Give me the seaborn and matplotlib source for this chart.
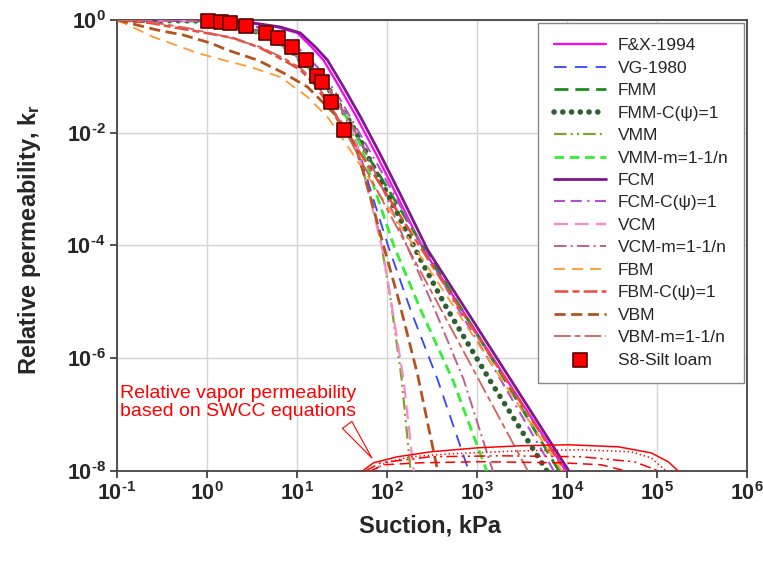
import numpy as np
import pandas as pd
import matplotlib
matplotlib.use("Agg")
import matplotlib.pyplot as plt
import seaborn as sns

# ---------------- data ----------------
fx_x = [0.1, 0.84, 3.03, 5.90, 10.1, 14.5, 19.7, 29.6, 45.8, 76.6, 128, 256, 2148, 9750]
fx_y = [1.0, 0.98, 0.885, 0.751, 0.589, 0.332, 0.195, 0.0649, 0.0191, 4.04e-3, 7.89e-4, 8.36e-5, 4.14e-7, 1e-8]

vg_x = [0.1, 0.84, 1.96, 4.68, 9.12, 14.1, 21.8, 30.4, 39.4, 48.3, 65.6, 102, 183, 366, 811]
vg_y = [1.0, 0.96, 0.815, 0.542, 0.260, 0.130, 0.0649, 0.0286, 0.0149, 4.95e-3, 9.68e-4, 1.03e-4, 7.21e-6, 4.14e-7, 1e-8]

fmm_x = [0.1, 0.84, 1.96, 4.68, 9.12, 14.1, 21.8, 30.4, 39.4, 62.4, 142, 713, 1750, 8147]
fmm_y = [1.0, 0.96, 0.815, 0.542, 0.260, 0.130, 0.0649, 0.0286, 0.0149, 3.72e-3, 4.28e-4, 6.38e-6, 6.22e-7, 1e-8]

fmmc_x = [0.1, 0.84, 1.96, 4.68, 9.12, 14.1, 21.8, 30.4, 39.4, 50.8, 65.6, 110, 237, 473, 1426, 5984]
fmmc_y = [1.0, 0.96, 0.815, 0.542, 0.260, 0.130, 0.0649, 0.0286, 0.0149, 7.45e-3, 3.03e-3, 6.44e-4, 5.56e-5, 7.21e-6, 3.82e-7, 1e-8]

vmm_x = [0.1, 0.84, 1.96, 4.68, 9.12, 14.1, 21.8, 30.4, 39.4, 47.1, 57.8, 69.2, 84.9, 110, 146, 183]
vmm_y = [1.0, 0.96, 0.815, 0.542, 0.260, 0.130, 0.0649, 0.0286, 0.0137, 4.95e-3, 1.46e-3, 5.25e-4, 1.26e-4, 1.08e-5, 4.14e-7, 1e-8]

vmmm_x = [0.1, 0.84, 1.96, 4.68, 9.12, 14.1, 21.8, 30.4, 39.4, 53.5, 69.2, 118, 237, 538, 1285]
vmmm_y = [1.0, 0.96, 0.815, 0.542, 0.260, 0.130, 0.0649, 0.0286, 0.0149, 4.95e-3, 1.29e-3, 1.03e-4, 7.21e-6, 4.14e-7, 1e-8]

fcm_x = [0.1, 0.84, 3.27, 6.53, 10.9, 16.0, 21.8, 32.9, 50.8, 84.9, 142, 283, 2377, 10500]
fcm_y = [1.0, 0.98, 0.885, 0.751, 0.589, 0.332, 0.195, 0.0649, 0.0191, 4.04e-3, 7.89e-4, 8.36e-5, 4.14e-7, 1e-8]

fcmc_x = [0.1, 0.84, 3.03, 9.60, 18.2, 30.4, 50.8, 84.9, 183, 581, 1706, 7161]
fcmc_y = [1.0, 0.98, 0.849, 0.360, 0.130, 0.0382, 9.14e-3, 2.19e-3, 2.32e-4, 8.85e-6, 5.08e-7, 1e-8]

vcm_x = [0.1, 0.84, 1.96, 4.68, 9.12, 14.1, 21.8, 34.6, 44.7, 53.5, 65.6, 89.3, 115, 153, 198]
vcm_y = [1.0, 0.96, 0.815, 0.542, 0.260, 0.130, 0.0649, 0.0207, 7.45e-3, 2.19e-3, 6.44e-4, 8.36e-5, 7.21e-6, 4.14e-7, 1e-8]

vcmm_x = [0.1, 0.84, 1.96, 4.68, 9.12, 14.1, 21.8, 30.4, 39.4, 57.8, 96.4, 174, 348, 713, 1500]
vcmm_y = [1.0, 0.96, 0.815, 0.542, 0.260, 0.130, 0.0649, 0.0286, 0.0149, 4.57e-3, 7.89e-4, 8.36e-5, 6.65e-6, 4.14e-7, 1e-8]

fbm_x = [0.1, 0.140, 0.252, 0.389, 0.778, 1.51, 3.03, 6.53, 13.1, 21.8, 32.9, 511, 8790]
fbm_y = [1.0, 0.783, 0.500, 0.391, 0.260, 0.195, 0.147, 0.0975, 0.0431, 0.0191, 7.45e-3, 1.0e-5, 1e-8]

fbmc_x = [0.1, 0.233, 0.466, 0.840, 1.96, 3.91, 7.06, 10.9, 15.2, 21.8, 28.2, 39.4, 208, 1841, 9506]
fbmc_y = [1.0, 0.885, 0.722, 0.613, 0.480, 0.319, 0.195, 0.130, 0.0764, 0.0337, 0.0169, 8.09e-3, 1.26e-4, 5.74e-7, 1e-8]

vbm_x = [0.1, 0.167, 0.279, 0.543, 1.09, 1.68, 3.62, 7.06, 13.1, 19.7, 28.2, 39.4, 47.1, 62.4, 84.9, 135, 219, 366]
vbm_y = [1.0, 0.815, 0.665, 0.542, 0.391, 0.294, 0.195, 0.115, 0.0649, 0.0337, 0.0191, 8.43e-3, 4.39e-3, 9.68e-4, 1.54e-4, 1.08e-5, 5.08e-7, 1e-8]

vbmm_x = [0.1, 0.233, 0.603, 1.68, 3.91, 7.06, 10.9, 15.2, 21.8, 30.4, 84.9, 395, 3681]
vbmm_y = [1.0, 0.923, 0.722, 0.500, 0.332, 0.212, 0.141, 0.0863, 0.0382, 0.0155, 7.27e-4, 7.52e-6, 1e-8]

soil_x = [1.03, 1.44, 1.81, 2.73, 4.56, 6.21, 8.89, 12.7, 16.9, 19.2, 23.6, 32.9]
soil_y = [0.95, 0.93, 0.90, 0.78, 0.59, 0.48, 0.33, 0.195, 0.102, 0.080, 0.035, 0.0112]

# relative vapour permeability curves
vap1_x = [53.5, 71.0, 131, 306, 1021, 3076, 10260, 36980, 86100, 133400, 172200]
vap1_y = [1e-8, 1.40e-8, 1.79e-8, 2.19e-8, 2.58e-8, 2.80e-8, 2.92e-8, 2.69e-8, 2.10e-8, 1.46e-8, 1e-8]
vap2_x = [69.2, 96.4, 183, 511, 3076, 14320, 51640, 86100, 126500]
vap2_y = [1e-8, 1.40e-8, 1.79e-8, 2.02e-8, 2.28e-8, 2.38e-8, 2.19e-8, 1.71e-8, 1e-8]
vap3_x = [57.8, 84.9, 306, 1841, 14320, 55720, 105700]
vap3_y = [1e-8, 1.40e-8, 1.79e-8, 1.86e-8, 1.79e-8, 1.46e-8, 1e-8]
vap4_x = [65.6, 91.6, 237, 1102, 8570, 23930, 45400]
vap4_y = [1e-8, 1.29e-8, 1.40e-8, 1.46e-8, 1.40e-8, 1.29e-8, 1e-8]

x_ticks = [1e-1, 1e0, 1e1, 1e2, 1e3, 1e4, 1e5, 1e6]
x_tick_labels = [r"$10^{\text{-1}}$", r"$10^{\text{0}}$", r"$10^{\text{1}}$", r"$10^{\text{2}}$",
                 r"$10^{\text{3}}$", r"$10^{\text{4}}$", r"$10^{\text{5}}$", r"$10^{\text{6}}$"]
y_ticks = [1e-8, 1e-6, 1e-4, 1e-2, 1e0]
y_tick_labels = [r"$10^{\text{-8}}$", r"$10^{\text{-6}}$", r"$10^{\text{-4}}$", r"$10^{\text{-2}}$", r"$10^{\text{0}}$"]

# ---------------- style ----------------
sns.set_theme(style="white")
plt.rcParams["font.family"] = ["Liberation Sans", "DejaVu Sans"]
plt.rcParams.update({
    "mathtext.fontset": "custom",
    "mathtext.rm": "Liberation Sans:bold",
    "mathtext.it": "Liberation Sans:bold",
    "mathtext.bf": "Liberation Sans:bold",
    "mathtext.default": "rm",
    "lines.scale_dashes": False,
})

series = [
    ("F&X-1994", fx_x, fx_y, "#ff00ff", "-", 1.6),
    ("VG-1980", vg_x, vg_y, "#3344ff", (0, (9, 6)), 1.3),
    ("FMM", fmm_x, fmm_y, "#1e8c1e", (0, (10, 5)), 2.0),
    ("FMM-C(ψ)=1", fmmc_x, fmmc_y, "#2f5f33", (0, (0.1, 6.2)), 4.0),
    ("VMM", vmm_x, vmm_y, "#7da52a", (0, (9, 3, 1.5, 3, 1.5, 3)), 1.6),
    ("VMM-m=1-1/n", vmmm_x, vmmm_y, "#33ee33", (0, (7, 4)), 2.0),
    ("FCM", fcm_x, fcm_y, "#7a1a8c", "-", 2.0),
    ("FCM-C(ψ)=1", fcmc_x, fcmc_y, "#b54fcf", (0, (8, 4, 8, 4, 1.5, 4)), 1.5),
    ("VCM", vcm_x, vcm_y, "#ff88c8", (0, (10, 5)), 1.6),
    ("VCM-m=1-1/n", vcmm_x, vcmm_y, "#c0608a", (0, (9, 3, 1.5, 3)), 1.4),
    ("FBM", fbm_x, fbm_y, "#ff9933", (0, (8, 5)), 1.3),
    ("FBM-C(ψ)=1", fbmc_x, fbmc_y, "#ee4a3a", (0, (10, 3, 5, 3)), 1.8),
    ("VBM", vbm_x, vbm_y, "#b3541e", (0, (8, 4)), 2.0),
    ("VBM-m=1-1/n", vbmm_x, vbmm_y, "#d4605a", (0, (12, 3, 4, 3)), 1.3),
]

fig = plt.figure(figsize=(7.63, 5.63), dpi=100)
ax = fig.add_axes([0.1533, 0.1634, 0.8257, 0.8011])
ax.set_xscale("log")
ax.set_yscale("log")

handles = []
for name, xs, ys, col, ls, lw in series:
    df = pd.DataFrame({"suction": xs, "kr": ys})
    sns.lineplot(data=df, x="suction", y="kr", ax=ax, color=col, linestyle=ls,
                 linewidth=lw, estimator=None, sort=False, label=name, legend=False,
                 dash_capstyle="round" if name == "FMM-C(ψ)=1" else "butt", zorder=3)
    handles.append(ax.lines[-1])

vap_styles = [
    (vap1_x, vap1_y, "-"),
    (vap2_x, vap2_y, (0, (1, 2))),
    (vap3_x, vap3_y, (0, (8, 3, 1.5, 3, 1.5, 3))),
    (vap4_x, vap4_y, (0, (7, 4))),
]
for xs, ys, ls in vap_styles:
    dv = pd.DataFrame({"suction": xs, "kr": ys})
    sns.lineplot(data=dv, x="suction", y="kr", ax=ax, color="#ff0000", linestyle=ls,
                 linewidth=1.1, estimator=None, sort=False, legend=False, zorder=3)

ds = pd.DataFrame({"suction": soil_x, "kr": soil_y})
sns.scatterplot(data=ds, x="suction", y="kr", ax=ax, marker="s", s=95, color="#ff0000",
                edgecolor="#5a0000", linewidth=1.2, zorder=6, label="S8-Silt loam", legend=False,
                clip_on=False)
handles.append(ax.collections[-1])

ax.set_xlim(1e-1, 1e6)
ax.set_ylim(1e-8, 1e0)
ax.set_xticks(x_ticks)
ax.set_xticklabels(x_tick_labels)
ax.set_yticks(y_ticks)
ax.set_yticklabels(y_tick_labels)
ax.minorticks_off()
ax.tick_params(axis="both", which="major", labelsize=15.5, length=5, width=1.2,
               color="#333333", direction="out", bottom=True, left=True)
ax.tick_params(axis="x", pad=3)
ax.tick_params(axis="y", pad=3)
ax.grid(True, which="major", color="#d4d4d4", linewidth=1.0)
ax.set_axisbelow(True)
for sp in ax.spines.values():
    sp.set_visible(True)
    sp.set_color("#444444")
    sp.set_linewidth(1.3)

ax.set_xlabel("Suction, kPa", fontsize=17, fontweight="bold")
ax.set_ylabel("Relative permeability, k$_{r}$", fontsize=17, fontweight="bold")
ax.xaxis.set_label_coords(0.497, -0.097)
ax.yaxis.set_label_coords(-0.118, 0.514)

ax.text(2.22, 1.62e-7, "Relative vapor permeability\nbased on SWCC equations",
        color="#ff0000", fontsize=14, ha="center", va="center", linespacing=1.1)
ax.annotate("", xy=(71, 1.55e-8), xytext=(34.6, 7.2e-8),
            arrowprops=dict(arrowstyle="wedge,tail_width=0.7,shrink_factor=0.5",
                            fc="none", ec="#ff0000", lw=0.8))

leg = ax.legend(handles=handles, labels=[s[0] for s in series] + ["S8-Silt loam"],
                loc="upper right", bbox_to_anchor=(1.0, 1.0), borderaxespad=0.15,
                fontsize=12.5, handlelength=3.0, handletextpad=0.7, labelspacing=0.42,
                borderpad=0.9, frameon=True, fancybox=False, framealpha=1.0,
                edgecolor="#888888", markerscale=1.0)
leg.get_frame().set_linewidth(1.0)
leg.set_zorder(10)

fig.savefig("out.png", dpi=100)
